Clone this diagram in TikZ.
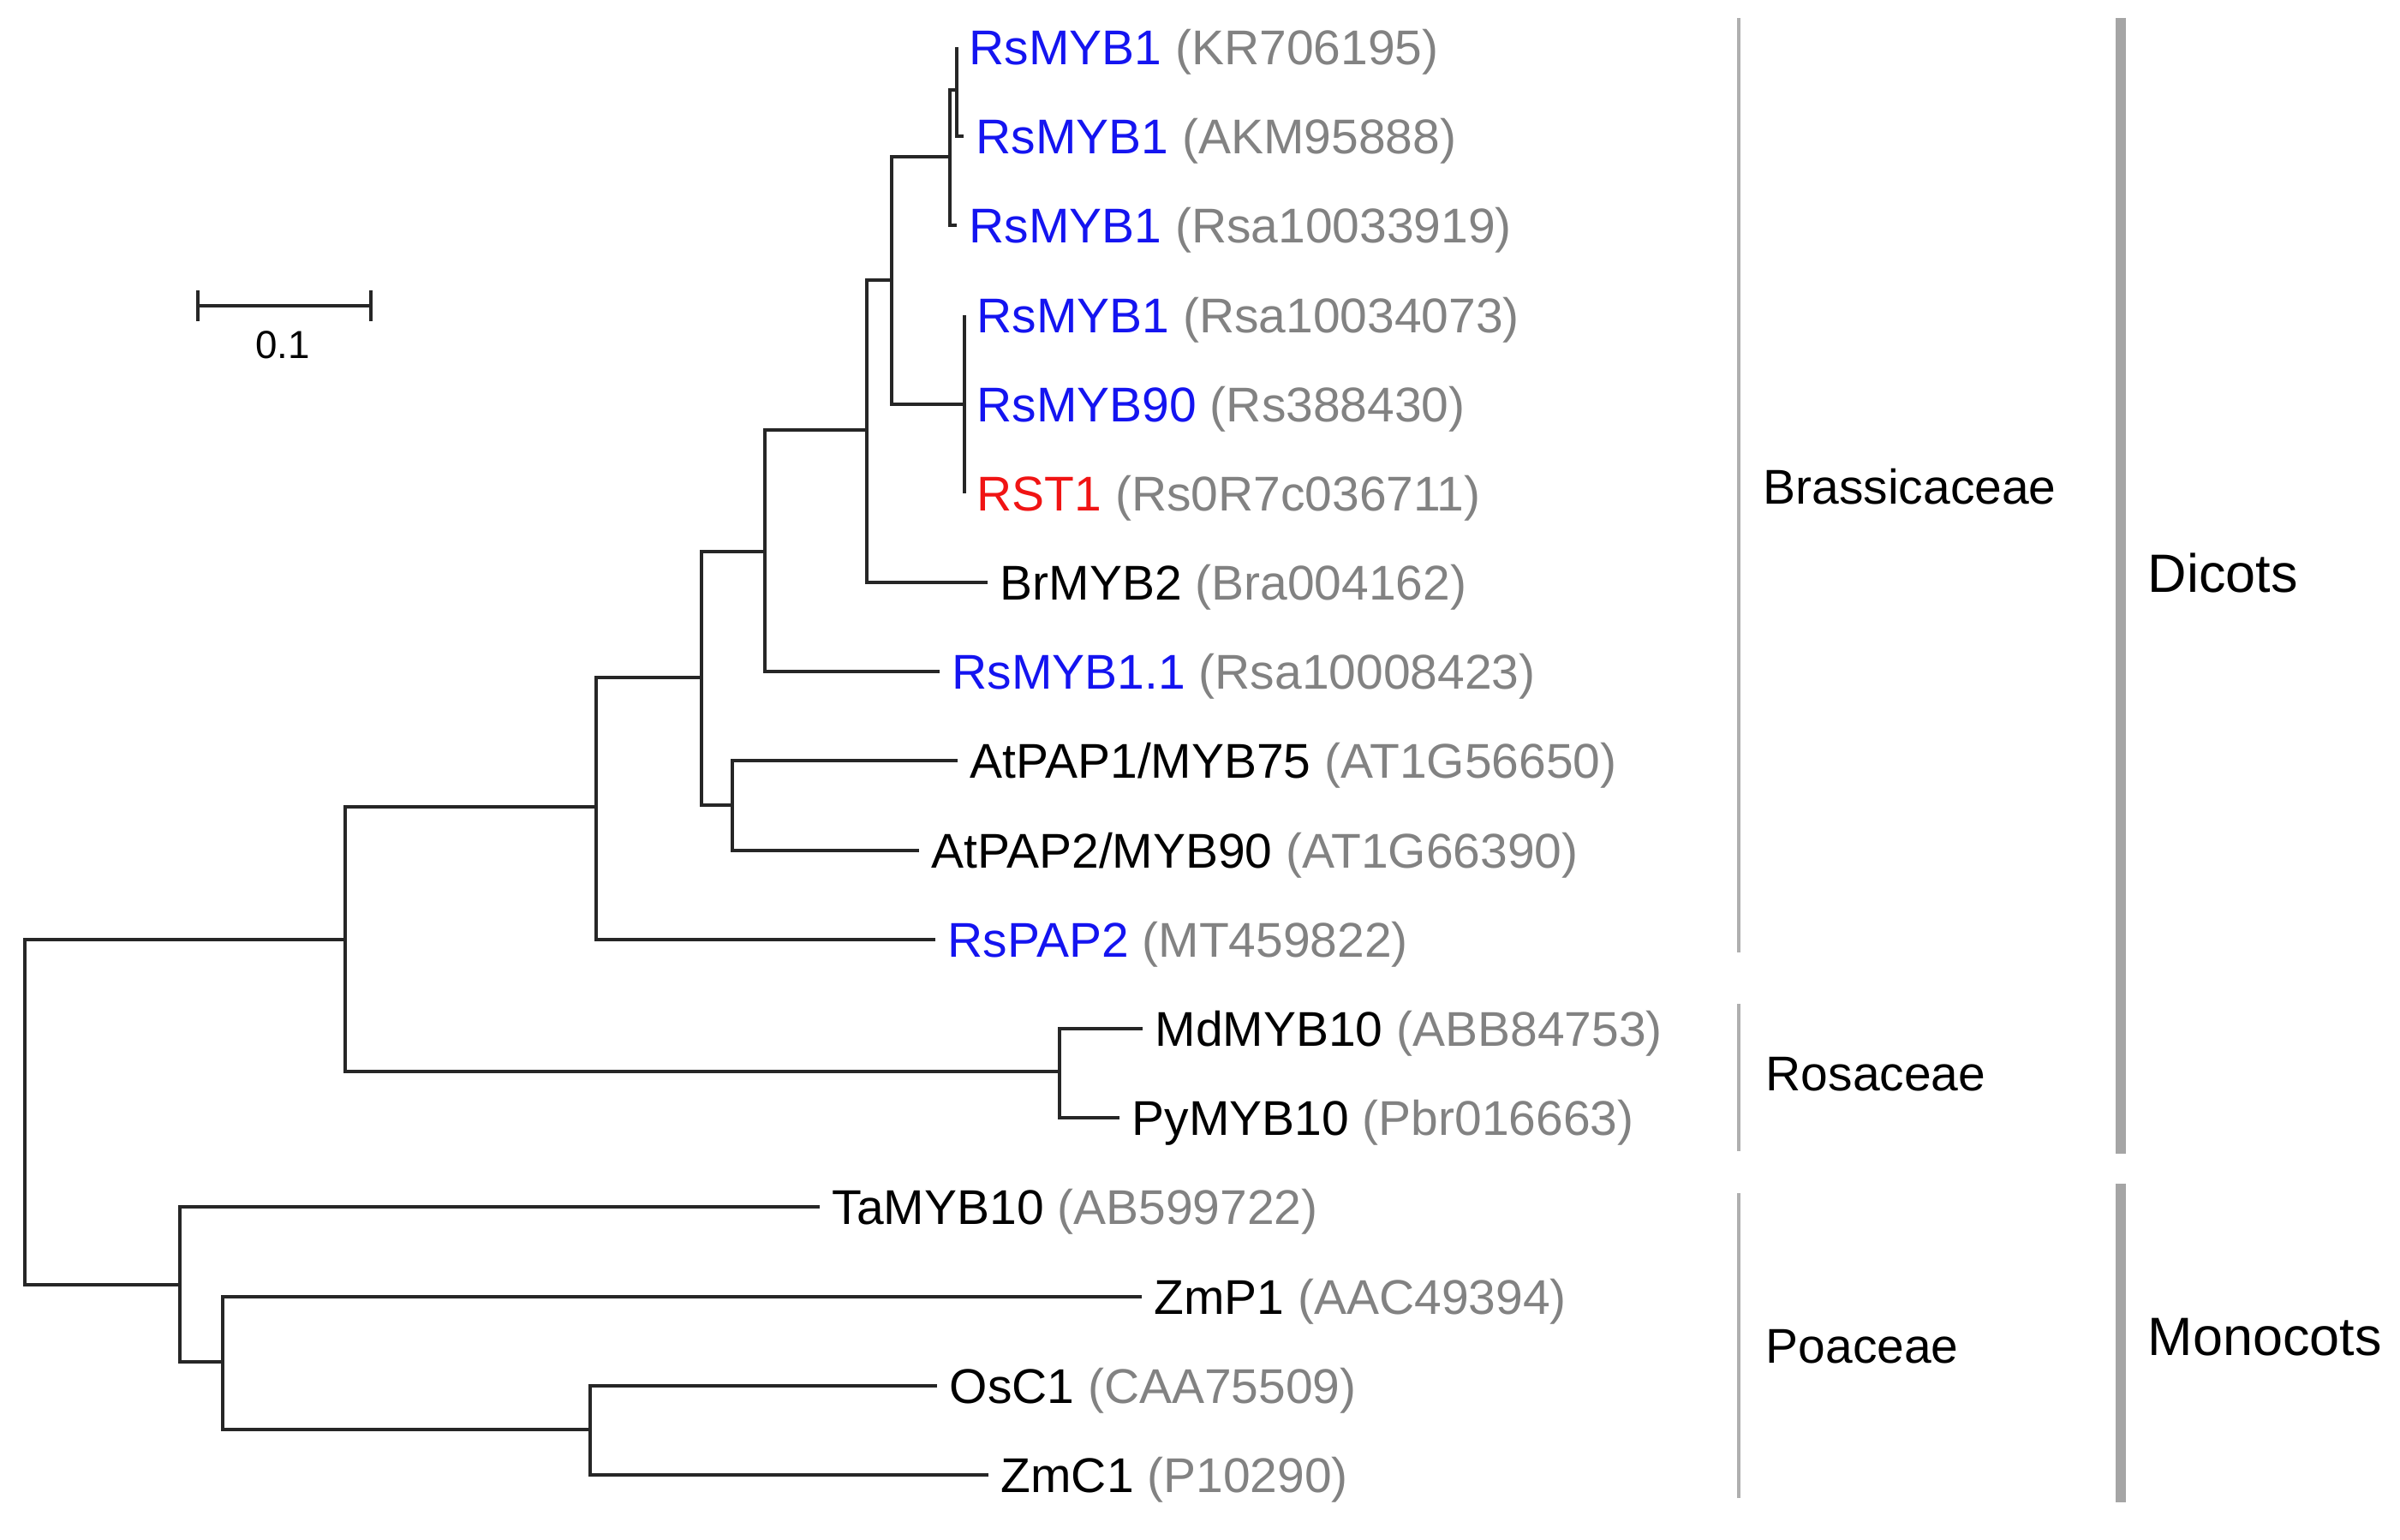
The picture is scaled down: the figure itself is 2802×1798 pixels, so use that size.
\documentclass[tikz,border=0pt]{standalone}
\usepackage{fontspec}
\setmainfont{Liberation Sans}
\usepackage{xcolor}
\usepackage{tikz}
\usetikzlibrary{positioning}
\definecolor{rsblue}{RGB}{20,20,240}
\definecolor{rsred}{RGB}{240,20,20}
\definecolor{accgray}{RGB}{130,130,130}
\definecolor{famgray}{RGB}{175,175,175}
\definecolor{groupgray}{RGB}{165,165,165}
\newcommand{\rsb}[1]{\textcolor{rsblue}{#1}}
\newcommand{\rsr}[1]{\textcolor{rsred}{#1}}
\newcommand{\acc}[1]{\textcolor{accgray}{(#1)}}

\begin{document}
\begin{tikzpicture}[x=0.01cm, y=-0.01cm,
    branch/.style={line width=0.9pt, draw=black!85},
    leaf/.style={inner sep=0pt, font=\fontsize{16.2}{19}\selectfont, text height=11.6pt, text depth=0pt},
    famline/.style={line width=1pt, draw=famgray},
    groupline/.style={line width=3.3pt, draw=groupgray},
    famlbl/.style={anchor=west, inner sep=0pt, font=\fontsize{16.2}{19}\selectfont, text height=11.6pt, text depth=0pt},
    grouplbl/.style={anchor=west, inner sep=0pt, font=\fontsize{17.9}{21}\selectfont, text height=12.8pt, text depth=0pt}]
    \useasboundingbox (0,0) rectangle (2802,1798);
    % inner nodes of the tree
    \coordinate (root) at (29,1298);
    \coordinate (nA) at (403,1097);
    \coordinate (nB) at (696,942);
    \coordinate (nC) at (819,791);
    \coordinate (nD) at (855,940);
    \coordinate (nE) at (893,644);
    \coordinate (nF) at (1012,502);
    \coordinate (nG) at (1041,327);
    \coordinate (nH) at (1126,472);
    \coordinate (nI) at (1109,183);
    \coordinate (nJ) at (1117,105);
    \coordinate (nRos) at (1237,1251);
    \coordinate (nK) at (210,1500);
    \coordinate (nL) at (260,1590);
    \coordinate (nM) at (689,1669);
    % tips
    \coordinate (t1) at (1117,55);
    \coordinate (t2) at (1125,159);
    \coordinate (t3) at (1117,263);
    \coordinate (t4) at (1126,368);
    \coordinate (t5) at (1126,472);
    \coordinate (t6) at (1126,576);
    \coordinate (t7) at (1153,680);
    \coordinate (t8) at (1097,784);
    \coordinate (t9) at (1118,888);
    \coordinate (t10) at (1073,993);
    \coordinate (t11) at (1092,1097);
    \coordinate (t12) at (1334,1201);
    \coordinate (t13) at (1307,1305);
    \coordinate (t14) at (957,1409);
    \coordinate (t15) at (1333,1514);
    \coordinate (t16) at (1094,1618);
    \coordinate (t17) at (1154,1722);
    \foreach \p/\c in {root/nA, root/nK, nA/nB, nA/nRos, nB/nC, nB/t11, nC/nE, nC/nD,
        nD/t9, nD/t10, nE/nF, nE/t8, nF/nG, nF/t7, nG/nI, nG/nH, nH/t4, nH/t5, nH/t6,
        nI/nJ, nI/t3, nJ/t1, nJ/t2, nRos/t12, nRos/t13, nK/t14, nK/nL, nL/t15, nL/nM,
        nM/t16, nM/t17}
        \draw[branch] (\p) |- (\c);
    % leaf labels
    \node[leaf, right=1.4mm of t1] (l1) {\rsb{RsMYB1} \acc{KR706195}};
    \node[leaf, right=1.4mm of t2] (l2) {\rsb{RsMYB1} \acc{AKM95888}};
    \node[leaf, right=1.4mm of t3] (l3) {\rsb{RsMYB1} \acc{Rsa10033919}};
    \node[leaf, right=1.4mm of t4] (l4) {\rsb{RsMYB1} \acc{Rsa10034073}};
    \node[leaf, right=1.4mm of t5] (l5) {\rsb{RsMYB90} \acc{Rs388430}};
    \node[leaf, right=1.4mm of t6] (l6) {\rsr{RST1} \acc{Rs0R7c036711}};
    \node[leaf, right=1.4mm of t7] (l7) {BrMYB2 \acc{Bra004162}};
    \node[leaf, right=1.4mm of t8] (l8) {\rsb{RsMYB1.1} \acc{Rsa10008423}};
    \node[leaf, right=1.4mm of t9] (l9) {AtPAP1/MYB75 \acc{AT1G56650}};
    \node[leaf, right=1.4mm of t10] (l10) {AtPAP2/MYB90 \acc{AT1G66390}};
    \node[leaf, right=1.4mm of t11] (l11) {\rsb{RsPAP2} \acc{MT459822}};
    \node[leaf, right=1.4mm of t12] (l12) {MdMYB10 \acc{ABB84753}};
    \node[leaf, right=1.4mm of t13] (l13) {PyMYB10 \acc{Pbr016663}};
    \node[leaf, right=1.4mm of t14] (l14) {TaMYB10 \acc{AB599722}};
    \node[leaf, right=1.4mm of t15] (l15) {ZmP1 \acc{AAC49394}};
    \node[leaf, right=1.4mm of t16] (l16) {OsC1 \acc{CAA75509}};
    \node[leaf, right=1.4mm of t17] (l17) {ZmC1 \acc{P10290}};
    % scale bar
    \coordinate (sbL) at (231,357);
    \coordinate (sbR) at (433,357);
    \draw[branch] (sbL) -- (sbR);
    \draw[branch] ([yshift=1.8mm]sbL) -- ([yshift=-1.8mm]sbL);
    \draw[branch] ([yshift=1.8mm]sbR) -- ([yshift=-1.8mm]sbR);
    \node[inner sep=0pt, font=\fontsize{13}{15}\selectfont] (sbval) at (330,403) {0.1};
    % families and groups
    \coordinate (brT) at (2030,21);   \coordinate (brB) at (2030,1112);
    \coordinate (roT) at (2030,1172); \coordinate (roB) at (2030,1344);
    \coordinate (poT) at (2030,1393); \coordinate (poB) at (2030,1749);
    \coordinate (diT) at (2476,21);   \coordinate (diB) at (2476,1347);
    \coordinate (moT) at (2476,1382); \coordinate (moB) at (2476,1754);
    \draw[famline] (brT) -- (brB);
    \draw[famline] (roT) -- (roB);
    \draw[famline] (poT) -- (poB);
    \draw[groupline] (diT) -- (diB);
    \draw[groupline] (moT) -- (moB);
    \node[famlbl] (fBr) at (2058,568) {Brassicaceae};
    \node[famlbl] (fRo) at (2061,1253) {Rosaceae};
    \node[famlbl] (fPo) at (2061,1571) {Poaceae};
    \node[grouplbl] (gDi) at (2507,669) {Dicots};
    \node[grouplbl] (gMo) at (2507,1560) {Monocots};
\end{tikzpicture}
\end{document}
